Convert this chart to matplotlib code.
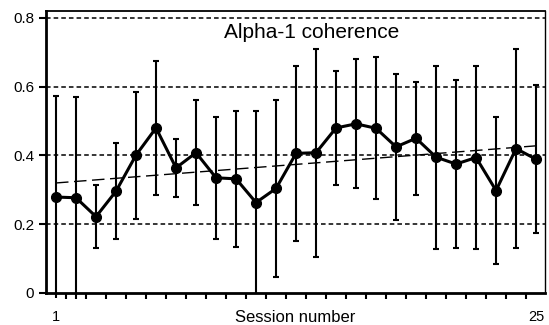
import numpy as np
import matplotlib
matplotlib.use("Agg")
from matplotlib import pyplot as plt

plt.rcParams['font.family'] = ['Liberation Sans', 'DejaVu Sans']

# ---Data---
sessions = list(range(1, 26))
coherence = [0.279, 0.277, 0.222, 0.296, 0.401, 0.480, 0.364, 0.408, 0.335, 0.332,
             0.263, 0.304, 0.406, 0.408, 0.480, 0.492, 0.479, 0.425, 0.450, 0.395,
             0.375, 0.394, 0.298, 0.420, 0.389]
sd = [0.294, 0.294, 0.092, 0.140, 0.185, 0.194, 0.084, 0.153, 0.177, 0.197,
      0.266, 0.257, 0.255, 0.302, 0.166, 0.188, 0.206, 0.212, 0.164, 0.266,
      0.244, 0.265, 0.213, 0.290, 0.215]
trend_sessions = [1, 25]
trend_values = [0.320, 0.428]
y_ticks = [0, 0.2, 0.4, 0.6, 0.8]
y_tick_labels = ['0', '0.2', '0.4', '0.6', '0.8']

fig = plt.figure(figsize=(5.49, 3.25), dpi=100)
ax = fig.add_axes([0.0838, 0.0985, 0.909, 0.8675])

# dotted reference lines
for y in y_ticks[1:]:
    ax.axhline(y, color='black', linestyle=(0, (3, 2)), linewidth=1.1, zorder=1)

# regression line
ax.plot(trend_sessions, trend_values, color='black', linestyle=(0, (9, 4)),
        linewidth=1.0, zorder=2)

# means with SD bars
eb = ax.errorbar(sessions, coherence, yerr=sd, color='black', linewidth=2.2,
                 marker='o', markersize=7, ecolor='black', elinewidth=1.5,
                 capsize=2.5, capthick=1.5, zorder=3)
for artist in eb.lines[2]:
    artist.set_clip_on(False)

ax.set_xlim(0.5, 25.45)
ax.set_ylim(0, 0.82)

ax.set_yticks(y_ticks)
ax.set_yticklabels(y_tick_labels, fontsize=11)
ax.tick_params(axis='y', direction='out', length=5, width=1.5)

ax.set_xticks([1, 25])
ax.set_xticklabels(['1', '25'], fontsize=10.5)
ax.set_xticks(np.arange(1.5, 25, 1), minor=True)
ax.tick_params(axis='x', which='major', length=0, pad=12)
ax.tick_params(axis='x', which='minor', direction='out', length=4, width=1.5)

fig.text(0.538, 0.009, 'Session number', ha='center', va='baseline', fontsize=12)

ax.spines['left'].set_linewidth(2)
ax.spines['bottom'].set_linewidth(2)
ax.spines['top'].set_linewidth(1.3)
ax.spines['right'].set_linewidth(1)

ax.text(0.533, 0.904, 'Alpha-1 coherence', transform=ax.transAxes,
        ha='center', va='baseline', fontsize=15)

fig.savefig('out.png', dpi=100)
